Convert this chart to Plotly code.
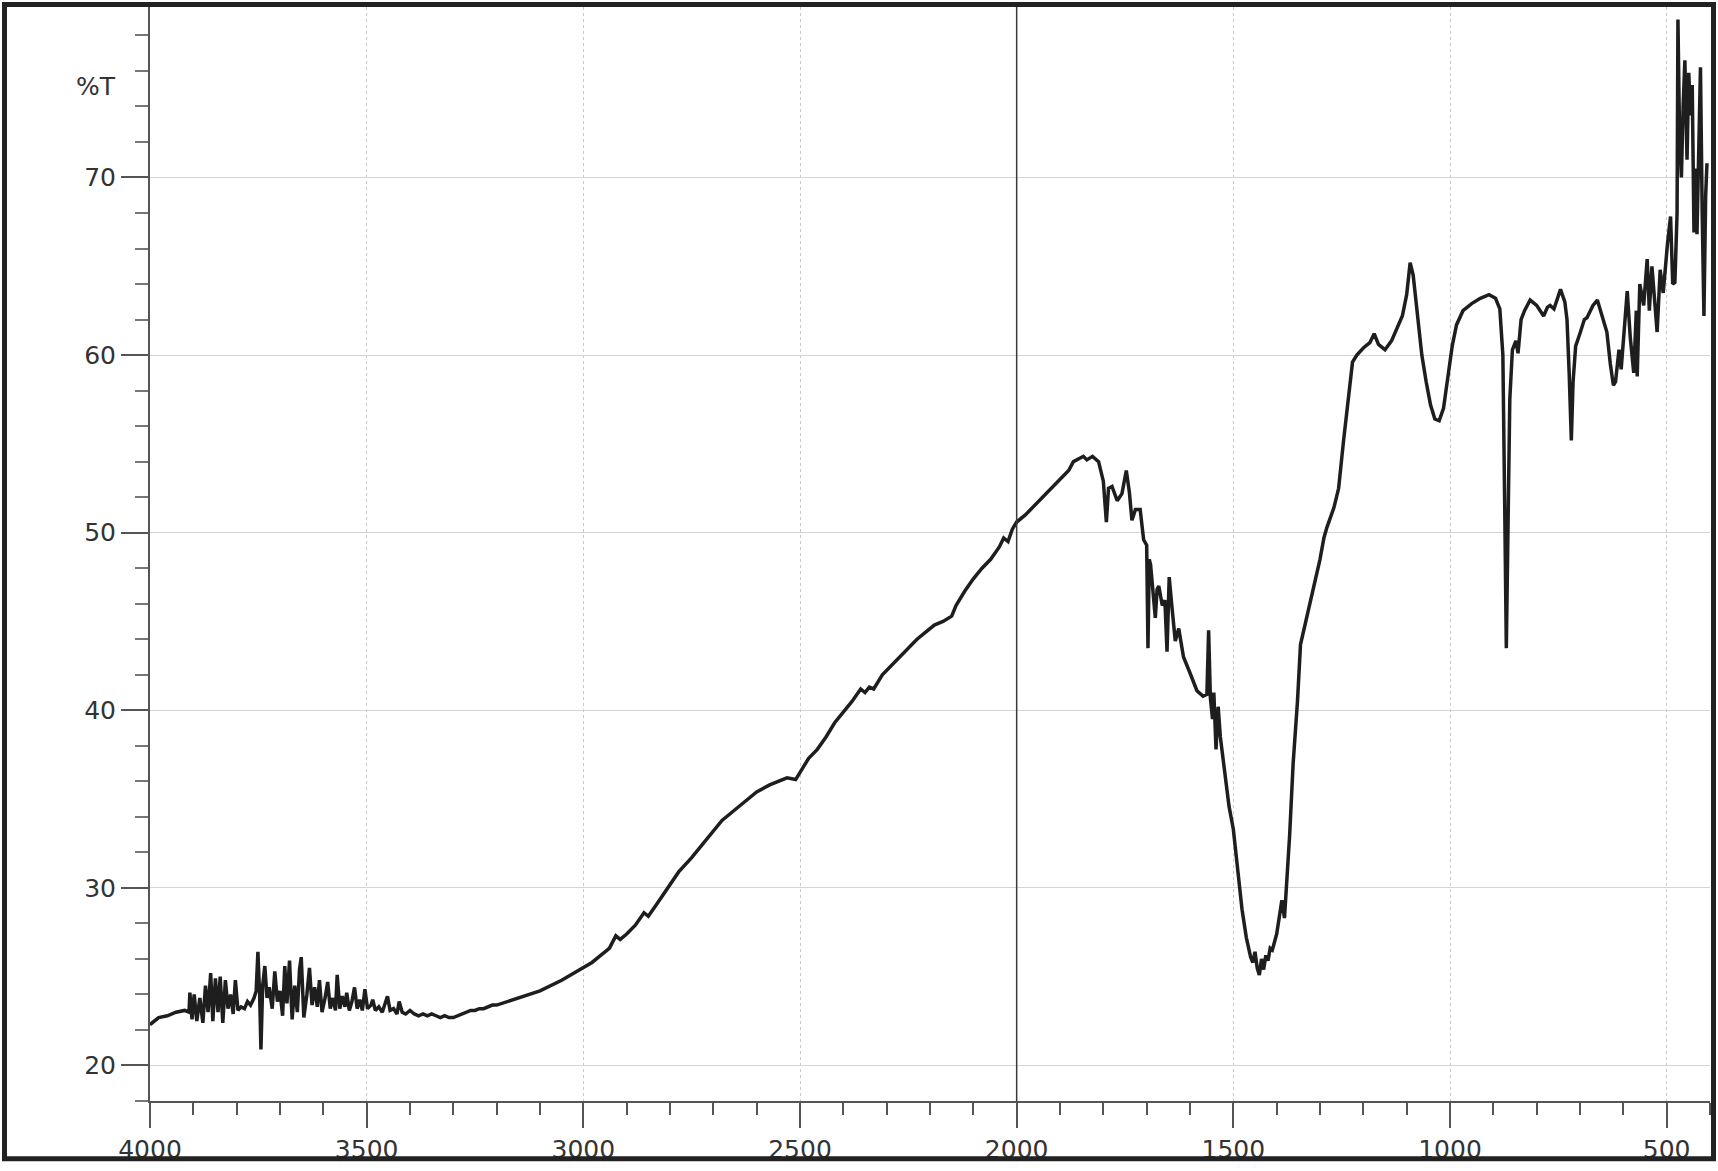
import plotly.graph_objects as go

# IR spectrum (wavenumber cm-1, %T)
WAVENUMBER = [
    4000, 3980, 3960, 3940, 3920, 3910,
    3908, 3903, 3898, 3892, 3885, 3878, 3872, 3866, 3860, 3855, 3849, 3843, 3838, 3832,
    3826, 3820, 3814, 3808, 3803, 3797, 3790, 3782, 3775, 3768, 3760, 3755, 3751, 3747,
    3744, 3740, 3735, 3730, 3725, 3718, 3712, 3706, 3700, 3694, 3689, 3684, 3678, 3672,
    3666, 3660, 3655, 3651, 3645, 3638, 3632, 3626, 3620, 3614, 3609, 3603, 3596, 3590,
    3584, 3578, 3572, 3568, 3562, 3556, 3550, 3546, 3540, 3534, 3528, 3522, 3516, 3510,
    3504, 3498, 3490, 3486, 3480, 3472, 3464, 3458, 3452, 3446, 3438, 3430, 3425, 3418,
    3410, 3400, 3390, 3380, 3370, 3360, 3350, 3340, 3330, 3320, 3310, 3300, 3290, 3280,
    3270, 3260, 3250, 3240, 3230, 3220, 3210, 3200,
    3150, 3100, 3050, 3000, 2980, 2960, 2940, 2925, 2915, 2900, 2880, 2860, 2850, 2830,
    2800, 2780, 2750, 2720, 2700, 2680, 2650, 2620, 2600, 2570, 2550, 2530, 2510, 2500,
    2480, 2460, 2440, 2420, 2400, 2380, 2360, 2350, 2340, 2330, 2310, 2290, 2270, 2250,
    2230, 2210, 2190, 2170, 2150, 2140, 2120, 2100, 2080, 2060, 2040, 2030, 2020, 2010,
    2000, 1980, 1960, 1940, 1920, 1900, 1880, 1869, 1855, 1846, 1838, 1825, 1811, 1800,
    1793, 1788, 1780, 1768, 1757, 1747, 1740, 1734, 1726, 1715, 1707, 1700, 1697, 1694,
    1691, 1684, 1680, 1676, 1672, 1664, 1658, 1653, 1648, 1642, 1634, 1626, 1615, 1600,
    1584, 1570, 1561, 1557, 1553, 1548, 1545, 1540, 1535, 1530, 1520, 1510, 1500, 1490,
    1480, 1470, 1460, 1455, 1450, 1445, 1440, 1435, 1430, 1425, 1420, 1415, 1410, 1400,
    1392, 1388, 1382, 1375, 1370, 1362, 1352, 1345, 1330, 1315, 1300, 1291, 1284, 1268,
    1257, 1246, 1234, 1225, 1215, 1200, 1185, 1175, 1165, 1150, 1135, 1120, 1110, 1100,
    1092, 1085, 1075, 1065, 1055, 1045, 1035, 1025, 1015, 1005, 995, 985, 970, 950,
    930, 910, 895, 885, 878, 874, 870, 866, 862, 856, 848, 843, 836, 828,
    815, 800, 784, 775, 769, 760, 745, 735, 730, 725, 720, 716, 710, 699,
    690, 684, 670, 660, 653, 645, 638, 630, 623, 618, 610, 605, 598, 591,
    584, 576, 570, 568, 562, 553, 545, 540, 534, 528, 522, 515, 508, 498,
    491, 486, 481, 476, 474, 470, 466, 462, 458, 453, 449, 445, 441, 437,
    433, 430, 426, 422, 418, 414, 410, 407,
]

TRANSMITTANCE = [
    22.3, 22.7, 22.8, 23.0, 23.1, 23.0,
    24.1, 22.6, 24.0, 22.5, 23.8, 22.4, 24.5, 23.0, 25.2, 22.5, 24.9, 23.0, 25.0, 22.4,
    24.8, 23.2, 24.0, 22.9, 24.8, 23.1, 23.3, 23.2, 23.6, 23.4, 23.8, 24.2, 26.4, 24.0,
    20.9, 24.5, 25.6, 23.8, 24.4, 23.2, 25.3, 23.6, 24.2, 22.8, 25.6, 23.5, 25.9, 22.6,
    24.5, 23.0, 25.4, 26.1, 22.7, 24.0, 25.5, 23.4, 24.4, 23.3, 24.8, 23.0, 23.8, 24.7,
    23.2, 23.8, 23.1, 25.1, 23.2, 23.9, 23.3, 24.1, 23.1, 23.6, 24.4, 23.2, 23.7, 23.1,
    24.3, 23.2, 23.4, 23.7, 23.1, 23.3, 23.0, 23.5, 23.9, 23.1, 23.2, 22.9, 23.6, 23.0,
    22.9, 23.1, 22.9, 22.8, 22.9, 22.8, 22.9, 22.8, 22.7, 22.8, 22.7, 22.7, 22.8, 22.9,
    23.0, 23.1, 23.1, 23.2, 23.2, 23.3, 23.4, 23.4,
    23.8, 24.2, 24.8, 25.5, 25.8, 26.2, 26.6, 27.3, 27.1, 27.4, 27.9, 28.6, 28.4, 29.1,
    30.2, 30.9, 31.7, 32.6, 33.2, 33.8, 34.4, 35.0, 35.4, 35.8, 36.0, 36.2, 36.1, 36.5,
    37.3, 37.8, 38.5, 39.3, 39.9, 40.5, 41.2, 41.0, 41.3, 41.2, 42.0, 42.5, 43.0, 43.5,
    44.0, 44.4, 44.8, 45.0, 45.3, 45.9, 46.7, 47.4, 48.0, 48.5, 49.2, 49.7, 49.5, 50.2,
    50.6, 51.0, 51.5, 52.0, 52.5, 53.0, 53.5, 54.0, 54.2, 54.3, 54.1, 54.3, 54.0, 52.9,
    50.6, 52.5, 52.6, 51.8, 52.2, 53.5, 52.3, 50.7, 51.3, 51.3, 49.6, 49.3, 43.5, 48.5,
    48.2, 46.4, 45.2, 46.8, 47.0, 45.9, 46.2, 43.3, 47.5, 45.9, 43.9, 44.6, 43.0, 42.1,
    41.1, 40.8, 40.9, 44.5, 40.7, 39.5, 41.0, 37.8, 40.2, 38.5, 36.5, 34.6, 33.3, 30.9,
    28.8, 27.2, 26.1, 25.8, 26.4, 25.5, 25.1, 26.0, 25.4, 26.2, 25.9, 26.6, 26.5, 27.4,
    28.5, 29.3, 28.3, 31.0, 33.0, 37.0, 40.5, 43.7, 45.3, 46.7, 48.5, 49.7, 50.3, 51.4,
    52.5, 55.1, 57.5, 59.6, 60.0, 60.4, 60.7, 61.2, 60.6, 60.3, 60.8, 61.6, 62.2, 63.4,
    65.2, 64.5, 62.0, 60.0, 58.5, 57.2, 56.4, 56.3, 57.0, 58.6, 60.5, 61.7, 62.5, 62.9,
    63.2, 63.4, 63.2, 62.6, 60.0, 52.0, 43.5, 50.5, 57.5, 60.3, 60.8, 60.1, 62.0, 62.5,
    63.1, 62.8, 62.2, 62.7, 62.8, 62.6, 63.7, 63.0, 62.0, 59.0, 55.2, 58.5, 60.5, 61.3,
    62.0, 62.1, 62.8, 63.1, 62.5, 61.8, 61.3, 59.5, 58.3, 58.5, 60.3, 59.2, 61.5, 63.6,
    61.0, 59.0, 62.5, 58.8, 64.0, 62.8, 65.4, 62.5, 65.0, 63.0, 61.3, 64.8, 63.5, 66.3,
    67.8, 64.0, 64.1, 68.0, 78.9, 72.0, 70.0, 74.0, 76.6, 71.0, 75.9, 73.5, 75.2, 66.9,
    70.5, 66.8, 72.0, 76.2, 68.0, 62.2, 69.0, 70.8,
]

X_TICKS = [4000, 3500, 3000, 2500, 2000, 1500, 1000, 500]
Y_TICKS = [20, 30, 40, 50, 60, 70]

FONT = dict(family="DejaVu Sans", size=25, color="#333333")
AXIS_COLOUR = "#555555"

fig = go.Figure()

fig.add_trace(
    go.Scatter(
        x=WAVENUMBER,
        y=TRANSMITTANCE,
        mode="lines",
        line=dict(color="#1e1e1e", width=3.5),
        showlegend=False,
    )
)

# plot area in pixels, used to place the outer frame
L, R, T, B = 150, 8, 7, 63
W, H = 1718, 1171
pw = W - L - R
ph = H - T - B

fig.update_layout(
    width=W,
    height=H,
    margin=dict(l=L, r=R, t=T, b=B),
    paper_bgcolor="white",
    plot_bgcolor="white",
    font=FONT,
    xaxis=dict(
        range=[4000, 400],
        tickvals=X_TICKS,
        ticks="outside",
        ticklen=25,
        tickwidth=2,
        tickcolor=AXIS_COLOUR,
        showline=True,
        linecolor=AXIS_COLOUR,
        linewidth=2,
        showgrid=True,
        gridcolor="#c8c8c8",
        gridwidth=1,
        griddash="dot",
        zeroline=False,
        minor=dict(dtick=100, ticks="outside", ticklen=12, tickwidth=2,
                   tickcolor=AXIS_COLOUR, showgrid=False),
    ),
    yaxis=dict(
        range=[18, 79.6],
        tickvals=Y_TICKS,
        ticks="outside",
        ticklen=27,
        tickwidth=2,
        tickcolor=AXIS_COLOUR,
        showline=True,
        linecolor=AXIS_COLOUR,
        linewidth=2,
        showgrid=True,
        gridcolor="#d4d4d4",
        gridwidth=1,
        zeroline=False,
        minor=dict(dtick=2, ticks="outside", ticklen=13, tickwidth=2,
                   tickcolor="#777777", showgrid=False),
    ),
    shapes=[
        # dark line at 2000 cm-1
        dict(type="line", xref="x", yref="paper", x0=2000, x1=2000, y0=0, y1=1,
             line=dict(color="#3a3a3a", width=1.5), layer="above"),
        # thick frame round the whole picture
        dict(type="rect", xref="paper", yref="paper",
             x0=(4.5 - L) / pw, x1=(W - 4.5 - L) / pw,
             y0=(H - B - (H - 5)) / ph, y1=(H - B - 4.5) / ph,
             line=dict(color="#222222", width=5)),
    ],
    annotations=[
        dict(text="%T", xref="paper", yref="paper",
             x=(118 - L) / pw, y=(H - B - 87) / ph,
             xanchor="right", yanchor="middle", showarrow=False,
             font=FONT),
    ],
)

# page body has a default margin; drop it so the figure fills the window
fig.write_html(
    "out.html",
    config={"displayModeBar": False},
    post_script="document.body.style.margin='0';document.body.style.overflow='hidden';",
)
